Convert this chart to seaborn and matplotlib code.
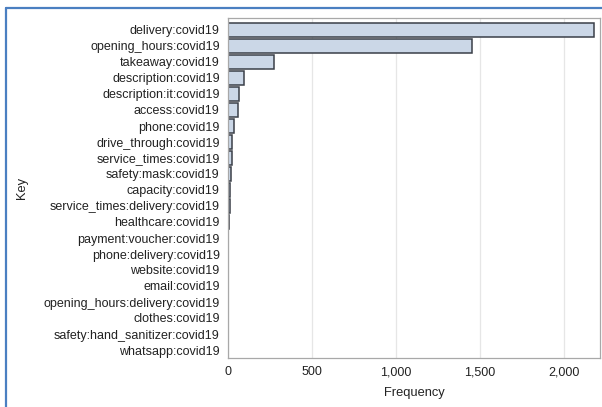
import matplotlib
matplotlib.use("Agg")
import matplotlib.pyplot as plt
import matplotlib.ticker as mticker
from matplotlib.lines import Line2D
import pandas as pd
import seaborn as sns

# data
keys = [
    "delivery:covid19", "opening_hours:covid19", "takeaway:covid19",
    "description:covid19", "description:it:covid19", "access:covid19",
    "phone:covid19", "drive_through:covid19", "service_times:covid19",
    "safety:mask:covid19", "capacity:covid19", "service_times:delivery:covid19",
    "healthcare:covid19", "payment:voucher:covid19", "phone:delivery:covid19",
    "website:covid19", "email:covid19", "opening_hours:delivery:covid19",
    "clothes:covid19", "safety:hand_sanitizer:covid19", "whatsapp:covid19",
]
freq = [2178, 1450, 274, 98, 68, 62, 33, 25, 23, 18, 12, 9, 5, 2, 1, 1, 1, 1, 1, 1, 1]

df = pd.DataFrame({"Key": keys, "Frequency": freq})

sns.set_style("white")
plt.rcParams["font.family"] = ["Liberation Sans", "DejaVu Sans"]

fig = plt.figure(figsize=(6.02, 4.07), dpi=100)
ax = fig.add_axes([228 / 602, 1 - 358 / 407, 372 / 602, 340 / 407])

sns.barplot(data=df, x="Frequency", y="Key", color="#cbd7e7", saturation=1,
            edgecolor="#3a3f48", linewidth=1.1, width=0.88, ax=ax)

ax.set_xlim(0, 2215)
ax.set_ylim(len(keys) - 0.5, -0.75)
ax.xaxis.set_major_locator(mticker.MultipleLocator(500))
ax.xaxis.set_major_formatter(mticker.StrMethodFormatter("{x:,.0f}"))
ax.grid(axis="x", color="#e6e6e6", linewidth=0.9)
ax.set_axisbelow(True)

for s in ax.spines.values():
    s.set_color("#a8a8a8")
    s.set_linewidth(0.9)

ax.tick_params(axis="y", length=4, color="#a8a8a8", labelsize=9, pad=2,
               labelcolor="#222222")
ax.tick_params(axis="x", length=0, labelsize=9, pad=6, labelcolor="#222222")
ax.set_xlabel("Frequency", fontsize=9.3, labelpad=6, color="#222222")
ax.set_ylabel("Key", fontsize=9.3, color="#222222")
ax.yaxis.set_label_coords(-200 / 372, 0.5)

# blue frame of the screenshot
fig.add_artist(Line2D([6 / 602, 6 / 602], [0, 1 - 8 / 407], transform=fig.transFigure,
                      color="#4a7fc1", linewidth=1.6))
fig.add_artist(Line2D([6 / 602, 1], [1 - 8 / 407, 1 - 8 / 407], transform=fig.transFigure,
                      color="#4a7fc1", linewidth=1.6))

fig.savefig("out.png", dpi=100)
